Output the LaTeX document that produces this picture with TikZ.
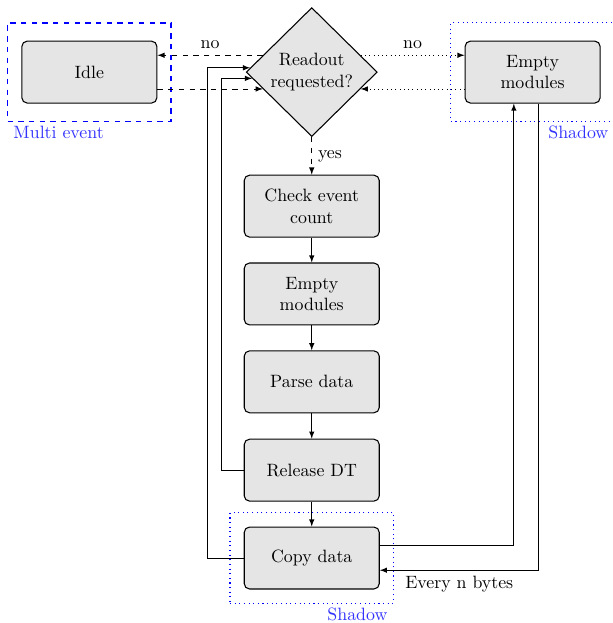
\documentclass[tikz,border=0pt]{standalone}
\usetikzlibrary{shapes.geometric,fit}
\tikzset{
  box/.style={draw, semithick, rounded corners=3pt, fill=gray!20, minimum width=2.66cm, minimum height=1.22cm, align=center},
  decide/.style={draw, semithick, diamond, fill=gray!20, minimum width=2.58cm, minimum height=2.54cm, inner sep=0pt, align=center},
  group/.style={draw=blue, semithick},
  grouplabel/.style={text=blue!80, inner xsep=3.5pt, inner ysep=2pt},
  >=latex
}
\begin{document}
\begin{tikzpicture}
\useasboundingbox (-6.14,1.42) rectangle (5.93,-10.85);
% decision on top, column of steps below
\node (ask)[decide] at (0,0) {Readout\\requested?} ;
\node (idle)[box] at (-4.38,0) {Idle} ;
\node (emptyr)[box] at (4.35,0) {Empty\\modules} ;

\node (check)[box] at (0,-2.64) {Check event\\count} ;
\node (emptyc)[box] at (0,-4.37) {Empty\\modules} ;
\node (parse)[box] at (0,-6.10) {Parse data} ;
\node (release)[box] at (0,-7.84) {Release DT} ;
\node (copy)[box] at (0,-9.57) {Copy data} ;

% blue frames
\node (multi)[group, thick, dashed, fit=(idle), inner xsep=0.27cm, inner ysep=0.35cm] {} ;
\node (shadowr)[group, dotted, fit=(emptyr), inner xsep=0.27cm, inner ysep=0.35cm] {} ;
\node (shadowc)[group, dotted, fit=(copy), inner sep=0.27cm] {} ;
\node (multilbl)[grouplabel, anchor=north west] at (multi.south west) {Multi event} ;
\node (shadowrlbl)[grouplabel, anchor=north east] at (shadowr.south east) {Shadow} ;
\node (shadowclbl)[grouplabel, anchor=north east] at (shadowc.south east) {Shadow} ;

% around the decision
\draw[->, dashed] (ask.161) -- (ask.161 -| idle.east) node[midway, above] {no} ;
\draw[->, dashed] (ask.199 -| idle.east) -- (ask.199) ;
\draw[->, dotted] (ask.19) -- (ask.19 -| emptyr.west) node[midway, above] {no} ;
\draw[->, dotted] (ask.341 -| emptyr.west) -- (ask.341) ;
\draw[->, dashed] (ask) -- (check) node[midway, right] {yes} ;

% main column
\draw[->] (check) -- (emptyc) ;
\draw[->] (emptyc) -- (parse) ;
\draw[->] (parse) -- (release) ;
\draw[->] (release) -- (copy) ;

% loops back
\draw[->] (release.west) -- ++(-0.43,0) |- (ask.186) ;
\draw[->] (copy.west) -- ++(-0.71,0) |- (ask.176) ;
\draw[->] ([yshift=0.24cm]copy.east) -| ([xshift=-0.37cm]emptyr.south) ;
\draw[->] ([xshift=0.12cm]emptyr.south) |- ([yshift=-0.24cm]copy.east) node[pos=0.75, below] {Every n bytes} ;
\end{tikzpicture}
\end{document}
